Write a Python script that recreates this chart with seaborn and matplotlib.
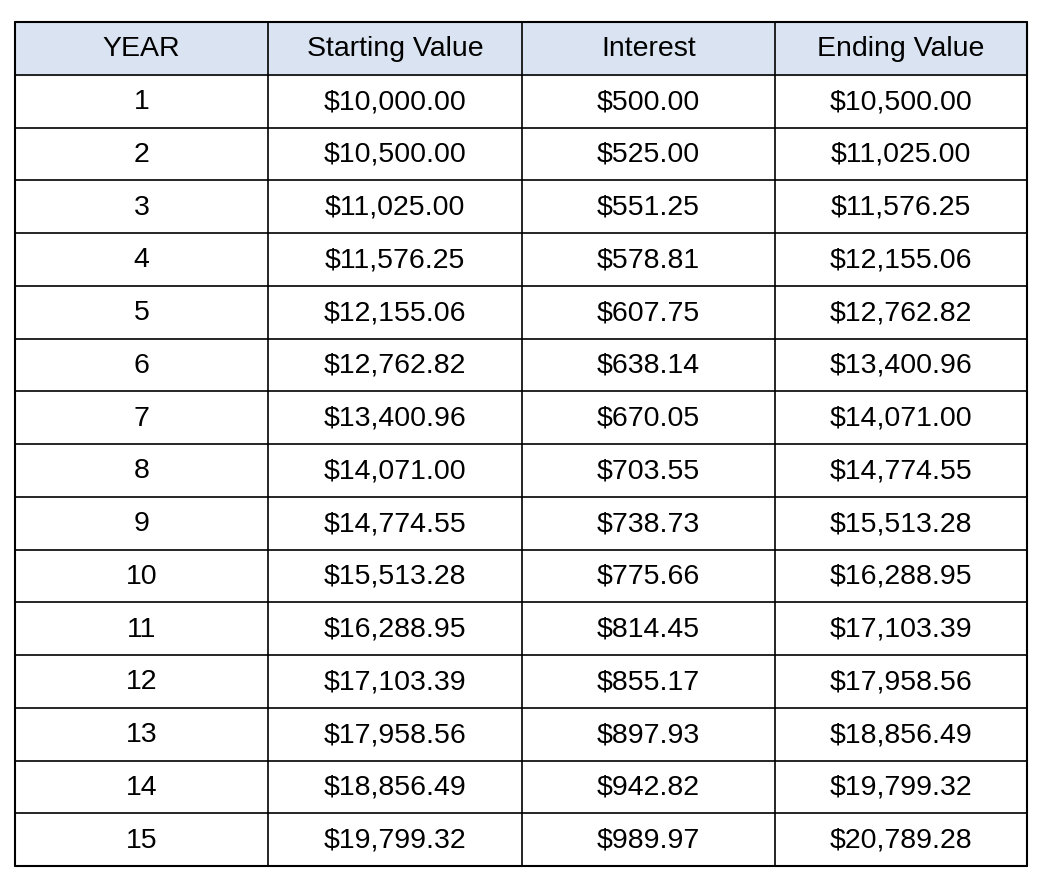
import matplotlib
matplotlib.use("Agg")
import matplotlib.pyplot as plt
import seaborn as sns

sns.set_style("white")
plt.rcParams['font.family'] = ['Liberation Sans', 'DejaVu Sans']

headers = ["YEAR", "Starting Value", "Interest", "Ending Value"]
years = [str(i) for i in range(1, 16)]
starting = ["$10,000.00", "$10,500.00", "$11,025.00", "$11,576.25", "$12,155.06", "$12,762.82",
            "$13,400.96", "$14,071.00", "$14,774.55", "$15,513.28", "$16,288.95", "$17,103.39",
            "$17,958.56", "$18,856.49", "$19,799.32"]
interest = ["$500.00", "$525.00", "$551.25", "$578.81", "$607.75", "$638.14", "$670.05", "$703.55",
            "$738.73", "$775.66", "$814.45", "$855.17", "$897.93", "$942.82", "$989.97"]
ending = ["$10,500.00", "$11,025.00", "$11,576.25", "$12,155.06", "$12,762.82", "$13,400.96",
          "$14,071.00", "$14,774.55", "$15,513.28", "$16,288.95", "$17,103.39", "$17,958.56",
          "$18,856.49", "$19,799.32", "$20,789.28"]

W, H = 1046, 884
fig = plt.figure(figsize=(W/100, H/100), dpi=100)
ax = fig.add_axes([0, 0, 1, 1])
ax.set_xlim(0, W); ax.set_ylim(H, 0); ax.axis("off")

cols = [15, 268, 522, 775, 1027]
top, bot = 22, 866
nrows = 16
rh = (bot - top) / nrows
ax.add_patch(plt.Rectangle((cols[0], top), cols[-1]-cols[0], rh, color="#d9e3f1", zorder=0))
for i in range(nrows + 1):
    ax.plot([cols[0], cols[-1]], [top + i*rh]*2, color="black", lw=1.5 if i in (0, nrows) else 1.2)
for c in cols:
    ax.plot([c, c], [top, bot], color="black", lw=1.5 if c in (cols[0], cols[-1]) else 1.2)

rows = [headers] + [list(r) for r in zip(years, starting, interest, ending)]
for i, row in enumerate(rows):
    y = top + (i + 0.5) * rh + 1
    for j, txt in enumerate(row):
        ax.text((cols[j] + cols[j+1]) / 2, y, txt, ha="center", va="center", fontsize=20.5, color="black")

fig.savefig("out.png", dpi=100)
